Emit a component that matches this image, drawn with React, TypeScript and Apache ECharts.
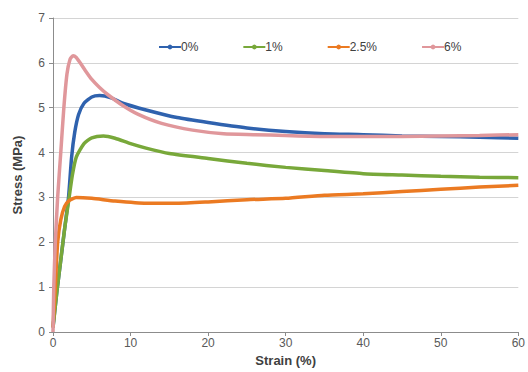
import React, { useEffect, useRef } from "react";
import * as echarts from "echarts";

const seriesNames = ["0%", "1%", "2.5%", "6%"];
const colors = ["#2F62AE", "#78A83A", "#EB7A22", "#E0979B"];

const strain0 = [0, 0.5, 1, 1.5, 2, 2.4, 2.8, 3.3, 4, 5, 6, 7.5, 9, 12, 16, 20, 25, 30, 35, 40, 45, 50, 55, 60];
const stress0 = [0.1, 0.9, 1.6, 2.3, 3.0, 3.9, 4.45, 4.85, 5.1, 5.24, 5.27, 5.22, 5.1, 4.95, 4.78, 4.67, 4.55, 4.47, 4.42, 4.4, 4.37, 4.36, 4.34, 4.32];

const strain1 = [0, 0.5, 1, 1.5, 2, 2.5, 3, 4, 5, 6.5, 8, 10, 12, 15, 20, 25, 30, 35, 40, 45, 50, 55, 60];
const stress1 = [0.1, 0.9, 1.6, 2.3, 2.9, 3.5, 3.9, 4.2, 4.33, 4.37, 4.32, 4.2, 4.1, 3.98, 3.87, 3.76, 3.67, 3.6, 3.53, 3.5, 3.47, 3.45, 3.44];

const strain25 = [0, 0.3, 0.6, 1, 1.5, 2, 3, 5, 8, 12, 16, 20, 25, 30, 35, 40, 45, 50, 55, 60];
const stress25 = [0.1, 1.0, 2.0, 2.5, 2.8, 2.92, 3.0, 2.98, 2.92, 2.87, 2.87, 2.9, 2.95, 2.98, 3.05, 3.08, 3.13, 3.18, 3.23, 3.27];

const strain6 = [0, 0.1, 0.3, 0.6, 1, 1.4, 1.8, 2.2, 2.6, 3.0, 3.5, 4.2, 5, 6, 7, 9, 11, 14, 18, 22, 26, 30, 35, 40, 45, 50, 55, 60];
const stress6 = [0.0, 1, 2, 3, 4, 5, 5.75, 6.08, 6.16, 6.12, 6.0, 5.82, 5.63, 5.45, 5.3, 5.05, 4.85, 4.65, 4.5, 4.42, 4.4, 4.38, 4.36, 4.36, 4.36, 4.37, 4.38, 4.4];

const xTicks = [0, 10, 20, 30, 40, 50, 60];
const yTicks = [0, 1, 2, 3, 4, 5, 6, 7];

const zip = (xs: number[], ys: number[]) => xs.map((x, i) => [x, ys[i]]);

export default function App() {
  const ref = useRef<HTMLDivElement>(null);
  useEffect(() => {
    if (!ref.current) return;
    const chart = echarts.init(ref.current, undefined, { renderer: "svg" });
    const data = [zip(strain0, stress0), zip(strain1, stress1), zip(strain25, stress25), zip(strain6, stress6)];
    const font = "Liberation Sans, Arial, sans-serif";
    chart.setOption({
      animation: false,
      backgroundColor: "#ffffff",
      textStyle: { fontFamily: font },
      grid: { left: 53, right: 6, top: 18, bottom: 40, containLabel: false },
      legend: {
        data: seriesNames,
        left: 153,
        top: 36,
        itemGap: 44,
        itemWidth: 22,
        itemHeight: 6,
        textStyle: { fontFamily: font, fontSize: 12, color: "#404040", padding: [0, 0, 0, -5] },
      },
      xAxis: {
        type: "value",
        min: xTicks[0],
        max: xTicks[xTicks.length - 1],
        interval: 10,
        name: "Strain (%)",
        nameLocation: "middle",
        nameGap: 22,
        nameTextStyle: { fontFamily: font, fontSize: 13, fontWeight: "bold", color: "#404040" },
        axisLine: { show: true, onZero: false, lineStyle: { color: "#8C8C8C", width: 1 } },
        axisTick: { show: true, length: 4, lineStyle: { color: "#8C8C8C" } },
        axisLabel: { fontFamily: font, fontSize: 12, color: "#595959", margin: 5 },
        splitLine: { show: false },
      },
      yAxis: {
        type: "value",
        min: yTicks[0],
        max: yTicks[yTicks.length - 1],
        interval: 1,
        name: "Stress (MPa)",
        nameLocation: "middle",
        nameGap: 29,
        nameRotate: 90,
        nameTextStyle: { fontFamily: font, fontSize: 13, fontWeight: "bold", color: "#404040" },
        axisLine: { show: true, lineStyle: { color: "#8C8C8C", width: 1 } },
        axisTick: { show: true, length: 4, lineStyle: { color: "#8C8C8C" } },
        axisLabel: { fontFamily: font, fontSize: 12, color: "#595959", margin: 8 },
        splitLine: { show: true, lineStyle: { color: "#D4D4D4", width: 1 } },
      },
      series: seriesNames.map((name, i) => ({
        name,
        type: "line",
        data: data[i],
        smooth: 0.2,
        symbol: "circle",
        symbolSize: 4,
        showSymbol: false,
        color: colors[i],
        lineStyle: { color: colors[i], width: 3.5 },
        itemStyle: { color: colors[i] },
        z: i === 3 ? 3 : 2,
      })),
    });
    return () => chart.dispose();
  }, []);
  return (
    <div
      ref={ref}
      style={{ position: "absolute", left: 0, top: 0, width: 528, height: 372 }}
    />
  );
}
